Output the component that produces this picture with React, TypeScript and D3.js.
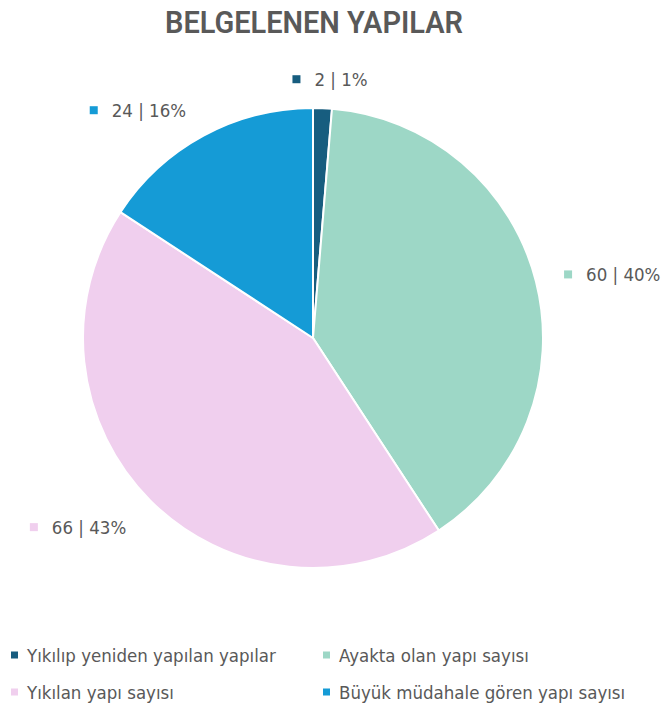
import React from "react";
import * as d3 from "d3";

const title = "BELGELENEN YAPILAR";
const categories = [
  "Yıkılıp yeniden yapılan yapılar",
  "Ayakta olan yapı sayısı",
  "Yıkılan yapı sayısı",
  "Büyük müdahale gören yapı sayısı",
];
const values = [2, 60, 66, 24];
const percentLabels = ["1%", "40%", "43%", "16%"];
const colors = ["#175d7f", "#9dd7c6", "#f0cfee", "#159bd6"];

const W = 669;
const H = 709;
const cx = 313;
const cy = 338;
const R = 230;
const labelR = 259;
const narrow = "'DejaVu Sans Condensed', 'DejaVu Sans', sans-serif";
const labelFont = 18.5;

export default function App() {
  const pie = d3.pie<number>().sort(null).value((d) => d).startAngle(0).endAngle(2 * Math.PI);
  const arcs = pie(values);
  const arcGen = d3.arc<d3.PieArcDatum<number>>().innerRadius(0).outerRadius(R);

  const legendCols = [11, 323];
  const legendRows = [655, 692];

  return (
    <svg width={W} height={H} style={{ position: "absolute", left: 0, top: 0, background: "#fff" }}>
      <text
        x={165}
        y={33}
        textLength={298}
        lengthAdjust="spacingAndGlyphs"
        fontFamily="Roboto, 'Liberation Sans', sans-serif"
        fontWeight={600}
        fontSize={32}
        fill="#595959"
      >
        {title}
      </text>
      <g transform={`translate(${cx},${cy})`}>
        {arcs.map((a, i) => (
          <path key={i} d={arcGen(a) || ""} fill={colors[i]} stroke="#fff" strokeWidth={2} />
        ))}
      </g>
      {arcs.map((a, i) => {
        const mid = (a.startAngle + a.endAngle) / 2;
        const px = cx + labelR * Math.sin(mid);
        const py = cy - labelR * Math.cos(mid) + (Math.cos(mid) < 0 ? 6 : 0);
        const s = Math.sin(mid);
        const label = `${values[i]} | ${percentLabels[i]}`;
        const textW = label.length * 0.527 * labelFont;
        const groupW = 22 + textW;
        let x0: number;
        if (Math.abs(s) < 0.3) {
          x0 = px - groupW / 2 + 9;
        } else if (s > 0) {
          x0 = px;
        } else {
          x0 = px - groupW;
        }
        return (
          <g key={i}>
            <rect x={x0} y={py - 4} width={8} height={8} fill={colors[i]} />
            <text
              x={x0 + 22}
              y={py}
              dominantBaseline="central"
              fontFamily={narrow}
              fontSize={labelFont}
              fill="#595959"
            >
              {label}
            </text>
          </g>
        );
      })}
      {categories.map((c, i) => {
        const x = legendCols[i % 2];
        const y = legendRows[Math.floor(i / 2)];
        return (
          <g key={c}>
            <rect x={x} y={y - 3.5} width={7} height={7} fill={colors[i]} />
            <text x={x + 16} y={y} dominantBaseline="central" fontFamily={narrow} fontSize={18.5} fill="#595959">
              {c}
            </text>
          </g>
        );
      })}
    </svg>
  );
}
